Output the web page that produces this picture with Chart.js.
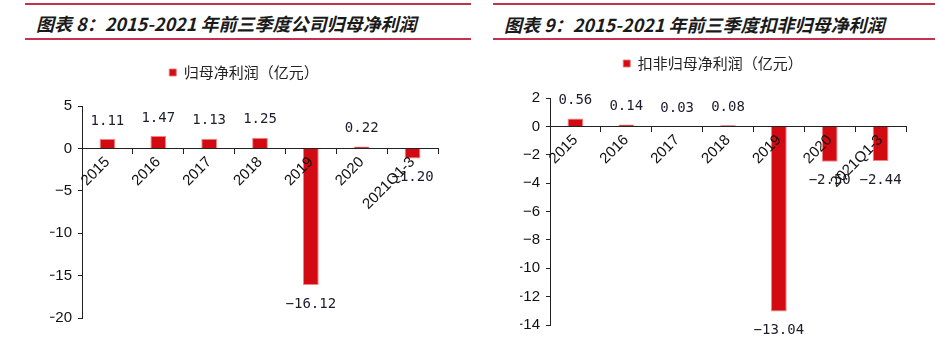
<!DOCTYPE html>
<html>
<head>
<meta charset="utf-8">
<script src="https://cdn.jsdelivr.net/npm/chart.js@4.4.1/dist/chart.umd.min.js"></script>
<style>
  html, body { margin: 0; padding: 0; background: #fff; }
  body { width: 942px; height: 344px; position: relative; overflow: hidden; }
  .rule { position: absolute; background: #c5304e; }
  .title { position: absolute; font-family: "Noto Sans CJK SC", sans-serif; font-weight: bold; font-style: italic; font-size: 18px; line-height: 24px; color: #1a1a1a; white-space: nowrap; }
  canvas { position: absolute; }
</style>
</head>
<body>
<div class="rule" style="left:25px; top:3px; width:446px; height:2px;"></div>
<div class="rule" style="left:25px; top:38px; width:446px; height:1.5px;"></div>
<div class="rule" style="left:493px; top:3px; width:442px; height:2px;"></div>
<div class="rule" style="left:493px; top:38px; width:442px; height:1.5px;"></div>
<div class="title" style="left:36px; top:11px;">图表 8：2015-2021 年前三季度公司归母净利润</div>
<div class="title" style="left:504px; top:12px;">图表 9：2015-2021 年前三季度扣非归母净利润</div>
<canvas id="c1" width="471" height="300" style="left:0; top:44px;"></canvas>
<canvas id="c2" width="471" height="300" style="left:471px; top:44px;"></canvas>
<script>
const categories = ["2015", "2016", "2017", "2018", "2019", "2020", "2021Q1-3"];
const netProfit = [1.11, 1.47, 1.13, 1.25, -16.12, 0.22, -1.20];
const netProfitExcl = [0.56, 0.14, 0.03, 0.08, -13.04, -2.50, -2.44];
const label1 = "归母净利润（亿元）";
const label2 = "扣非归母净利润（亿元）";
const yTicks1 = { min: -20, max: 5, step: 5 };
const yTicks2 = { min: -14, max: 2, step: 2 };

const BAR = '#d20a11';
const MINUS = '\u2212';

const valueLabels = {
  id: 'valueLabels',
  afterDatasetsDraw(chart) {
    const ctx = chart.ctx;
    const meta = chart.getDatasetMeta(0);
    const data = chart.data.datasets[0].data;
    ctx.save();
    ctx.font = '14px "DejaVu Sans Mono", monospace';
    ctx.fillStyle = '#1c1c2c';
    ctx.textAlign = 'center';
    ctx.textBaseline = 'middle';
    meta.data.forEach((el, i) => {
      const v = data[i];
      const txt = (v < 0 ? MINUS : '') + Math.abs(v).toFixed(2);
      const y = v >= 0 ? el.y - 18 : el.y + 19;
      ctx.fillText(txt, el.x, y);
    });
    ctx.restore();
  }
};

function makeChart(id, values, label, yt, pad, yWidth, spacer) {
  return new Chart(document.getElementById(id), {
    type: 'bar',
    data: {
      labels: categories,
      datasets: [{
        label: label,
        data: values,
        backgroundColor: BAR,
        borderColor: 'rgba(240,120,120,0.9)',
        borderWidth: 1,
        categoryPercentage: 1,
        barPercentage: 0.31
      }]
    },
    options: {
      responsive: false,
      animation: false,
      devicePixelRatio: 1,
      layout: { padding: pad },
      plugins: {
        legend: {
          position: 'top',
          labels: {
            boxWidth: 7, boxHeight: 7, padding: 8,
            color: '#222',
            font: { family: '"Noto Sans CJK SC", sans-serif', size: 15 }
          }
        },
        title: {
          display: true, text: ' ', position: 'top', weight: 500,
          font: { size: 10, lineHeight: 1.2 },
          padding: { top: 0, bottom: spacer - 12 }
        },
        tooltip: { enabled: false }
      },
      scales: {
        x: {
          type: 'category',
          position: { y: 0 },
          grid: { display: true, drawOnChartArea: false, drawTicks: true, tickLength: 5, offset: true, color: '#222', z: 1 },
          border: { display: true, color: '#222', width: 1, z: 1 },
          ticks: {
            z: 1,
            minRotation: 45, maxRotation: 45, autoSkip: false, padding: 0,
            color: '#111',
            font: { family: '"Liberation Sans", Arial, sans-serif', size: 15 }
          }
        },
        y: {
          min: yt.min, max: yt.max,
          afterFit(s) { s.width = yWidth; },
          grid: { display: true, drawOnChartArea: false, drawTicks: true, tickLength: 4, color: '#222' },
          border: { display: true, color: '#222', width: 1 },
          ticks: {
            stepSize: yt.step, padding: 6, color: '#111',
            font: { family: '"Liberation Sans", Arial, sans-serif', size: 15 },
            callback: v => String(v).replace('-', MINUS)
          }
        }
      }
    },
    plugins: [valueLabels]
  });
}

makeChart('c1', netProfit, label1, yTicks1, { top: 13, bottom: 26, left: 50, right: 33 }, 32, 16);
makeChart('c2', netProfitExcl, label2, yTicks2, { top: 4, bottom: 19, left: 49, right: 36 }, 30, 17);
</script>
</body>
</html>
